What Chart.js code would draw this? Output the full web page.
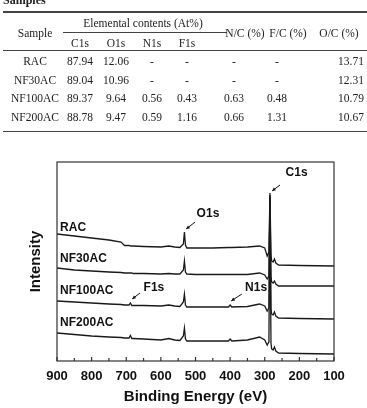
<!DOCTYPE html>
<html>
<head>
<meta charset="utf-8">
<script src="https://cdn.jsdelivr.net/npm/chart.js@4.4.0/dist/chart.umd.min.js"></script>
<style>
  html, body { margin: 0; padding: 0; background: #fff; }
  #wrap { position: relative; width: 367px; height: 408px; overflow: hidden; }
  #myChart { position: absolute; left: 0; top: 0; }
  .t { position: absolute; font-family: "Liberation Serif", serif; font-size: 11.5px; color: #222;
       white-space: nowrap; transform: translate(-50%, -50%); line-height: 12px; }
  .rule { position: absolute; background: #444; }
</style>
</head>
<body>
<div id="wrap">
  <canvas id="myChart" width="367" height="408"></canvas>
</div>
<script>
/* ---------------- tabla ---------------- */
const samples = ['RAC', 'NF30AC', 'NF100AC', 'NF200AC']
const c1s = ['87.94', '89.04', '89.37', '88.78']
const o1s = ['12.06', '10.96', '9.64', '9.47']
const n1s = ['-', '-', '0.56', '0.59']
const f1s = ['-', '-', '0.43', '1.16']
const nC = ['-', '-', '0.63', '0.66']
const fC = ['-', '-', '0.48', '1.31']
const oC = ['13.71', '12.31', '10.79', '10.67']

/* ---------------- espectros XPS ---------------- */
const energies = [900, 850, 800, 750, 715, 705, 692, 688, 684, 680, 650, 600, 577, 560, 545, 535, 532, 529, 525,
                  500, 450, 405, 400, 395, 350, 315, 300, 293, 288, 285, 282, 280, 276, 272, 268, 260, 200, 100]
const racData = [127, 125, 123, 121, 119, 115.5, 115.5, 115, 115, 115, 114.5, 114, 115, 114, 113.5, 117, 129, 116, 113,
                 113, 113, 113.5, 113.5, 113.5, 114, 115, 113, 105, 109, 168, 106, 100, 99, 102, 98, 96, 95.5, 95]
const nf30Data = [93, 91, 90, 89, 88.5, 88, 88, 88, 88, 87.5, 87.5, 87, 87.5, 87, 87, 91, 100, 89, 87,
                  86.5, 86.5, 86.5, 86.5, 86.5, 86.5, 88, 86, 82, 85, 166, 85, 79, 78, 80, 77, 75, 75, 75]
const nf100Data = [60, 59, 58, 57, 56.5, 56, 56, 58, 55.5, 55.5, 55.5, 55, 56, 55, 54.5, 59, 67, 56, 54,
                   54, 54, 54, 56, 54, 54.5, 57, 55, 50, 53, 164, 52, 47, 46, 49, 45, 43, 42.5, 42]
const nf200Data = [28, 26.5, 25, 24, 23.5, 23, 23, 25.5, 22.5, 22.5, 22, 21, 22.5, 21, 20.5, 25, 33, 22, 20,
                   20, 20, 20, 22, 20, 21, 24, 21, 16, 19, 162, 18, 12, 11, 14, 10, 8, 7.5, 7]

const tickValues = [900, 800, 700, 600, 500, 400, 300, 200, 100]
const minorTicks = [850, 750, 650, 550, 450, 350, 250, 150]

const SANS = '"Liberation Sans", Arial, sans-serif'

/* ---------- dibujar tabla ---------- */
const wrap = document.getElementById('wrap')

const texto = (txt, x, y, extra) => {
    const d = document.createElement('div')
    d.className = 't'
    d.textContent = txt
    d.style.left = x + 'px'
    d.style.top = y + 'px'
    if (extra) Object.assign(d.style, extra)
    wrap.appendChild(d)
}
const linea = (x, y, w, h) => {
    const d = document.createElement('div')
    d.className = 'rule'
    Object.assign(d.style, { left: x + 'px', top: y + 'px', width: w + 'px', height: h + 'px' })
    wrap.appendChild(d)
}

texto('Samples', 3, -1, { transform: 'none', fontWeight: 'bold', fontSize: '12px', top: '-6px' })
linea(3, 10.5, 364, 2.5)
texto('Sample', 35, 32.5)
texto('Elemental  contents  (At%)', 143, 22.5)
linea(63, 31.5, 164, 1)
texto('N/C  (%)', 245, 32.5)
texto('F/C  (%)', 288, 32.5)
texto('O/C  (%)', 339, 32.5)
const subCols = ['C1s', 'O1s', 'N1s', 'F1s']
const colX = [35, 80, 116, 152, 187, 234, 277, 351]
subCols.forEach((c, i) => texto(c, colX[i + 1], 42.5))
linea(3, 49.5, 364, 1)
const rowY = [61, 79.5, 98, 116.5]
samples.forEach((s, i) => {
    const fila = [s, c1s[i], o1s[i], n1s[i], f1s[i], nC[i], fC[i], oC[i]]
    fila.forEach((v, j) => texto(v, colX[j], rowY[i]))
})
linea(3, 131, 364, 1.2)

/* ---------- grafico ---------- */
const toPts = arr => arr.map((v, i) => ({ x: energies[i], y: v }))

const etiquetas = [
    { text: 'RAC', x: 891, y: 133.5, align: 'left' },
    { text: 'NF30AC', x: 891, y: 102.5, align: 'left' },
    { text: 'NF100AC', x: 891, y: 70, align: 'left' },
    { text: 'NF200AC', x: 891, y: 38, align: 'left' },
    { text: 'C1s', x: 208, y: 188, align: 'center' },
    { text: 'O1s', x: 464, y: 147, align: 'center' },
    { text: 'F1s', x: 620, y: 73.5, align: 'center' },
    { text: 'N1s', x: 325, y: 73.5, align: 'center' }
]
const flechas = [
    [256, 176, 279, 170],
    [501, 139, 527, 132],
    [660, 68, 683, 62],
    [366, 67, 397, 60]
]

const marcoPlugin = {
    id: 'marco',
    afterDatasetsDraw(chart) {
        const { ctx, chartArea: a, scales: { x, y } } = chart
        ctx.save()
        ctx.strokeStyle = '#333'
        ctx.lineWidth = 1.2
        ctx.strokeRect(a.left, a.top, a.right - a.left, a.bottom - a.top)
        ctx.beginPath()
        tickValues.forEach(e => {
            const px = x.getPixelForValue(e)
            ctx.moveTo(px, a.bottom); ctx.lineTo(px, a.bottom - 4)
        })
        minorTicks.forEach(e => {
            const px = x.getPixelForValue(e)
            ctx.moveTo(px, a.bottom); ctx.lineTo(px, a.bottom - 3)
        })
        ctx.stroke()

        ctx.fillStyle = '#111'
        ctx.font = 'bold 12px ' + SANS
        ctx.textBaseline = 'middle'
        etiquetas.forEach(l => {
            ctx.textAlign = l.align
            ctx.fillText(l.text, x.getPixelForValue(l.x), y.getPixelForValue(l.y))
        })

        ctx.strokeStyle = '#111'
        ctx.lineWidth = 1
        flechas.forEach(f => {
            const x0 = x.getPixelForValue(f[0]), y0 = y.getPixelForValue(f[1])
            const x1 = x.getPixelForValue(f[2]), y1 = y.getPixelForValue(f[3])
            const ang = Math.atan2(y1 - y0, x1 - x0)
            ctx.beginPath()
            ctx.moveTo(x0, y0); ctx.lineTo(x1, y1)
            ctx.stroke()
            ctx.beginPath()
            ctx.moveTo(x1, y1)
            ctx.lineTo(x1 - 4 * Math.cos(ang - 0.45), y1 - 4 * Math.sin(ang - 0.45))
            ctx.lineTo(x1 - 4 * Math.cos(ang + 0.45), y1 - 4 * Math.sin(ang + 0.45))
            ctx.closePath()
            ctx.fill()
        })
        ctx.restore()
    }
}

const serie = (label, arr) => ({
    label: label,
    data: toPts(arr),
    borderColor: '#1a1a1a',
    borderWidth: 1.3,
    pointRadius: 0,
    tension: 0,
    fill: false
})

new Chart(document.getElementById('myChart').getContext('2d'), {
    type: 'line',
    data: {
        datasets: [
            serie('RAC', racData),
            serie('NF30AC', nf30Data),
            serie('NF100AC', nf100Data),
            serie('NF200AC', nf200Data)
        ]
    },
    options: {
        responsive: false,
        animation: false,
        layout: { padding: { top: 162, right: 33, left: 0, bottom: 0 } },
        plugins: { legend: { display: false }, tooltip: { enabled: false } },
        scales: {
            x: {
                type: 'linear',
                reverse: true,
                min: 100,
                max: 900,
                afterFit: s => { s.height = 47 },
                afterBuildTicks: s => { s.ticks = tickValues.map(v => ({ value: v })) },
                grid: { display: false, drawTicks: false },
                border: { display: false },
                ticks: { padding: 8, color: '#111', autoSkip: false, maxRotation: 0,
                         font: { family: SANS, size: 13, weight: 'bold' } },
                title: { display: true, text: 'Binding Energy (eV)', color: '#111',
                         padding: { top: 0, bottom: 2 },
                         font: { family: SANS, size: 15, weight: 'bold' } }
            },
            y: {
                min: 0,
                max: 199,
                afterFit: s => { s.width = 57 },
                ticks: { display: false },
                grid: { display: false, drawTicks: false },
                border: { display: false },
                title: { display: true, text: 'Intensity', color: '#111',
                         padding: { top: 27, bottom: 0 },
                         font: { family: SANS, size: 15, weight: 'bold' } }
            }
        }
    },
    plugins: [marcoPlugin]
})
</script>
</body>
</html>
